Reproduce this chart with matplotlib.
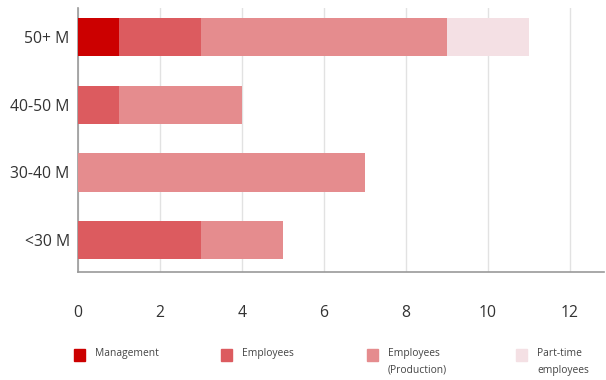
import matplotlib
matplotlib.use("Agg")
import matplotlib.pyplot as plt
from matplotlib.patches import Rectangle

plt.rcParams['font.family'] = ['Open Sans', 'DejaVu Sans']

# Revenue groups, bottom to top
groups = ["<30 M", "30-40 M", "40-50 M", "50+ M"]
series = ["Management", "Employees", "Employees\n(Production)", "Part-time\nemployees"]
colors = ["#cc0000", "#dc5b5f", "#e58c8e", "#f4e0e4"]

management = [0, 0, 0, 1]
employees = [3, 0, 1, 2]
production = [2, 7, 3, 6]
part_time = [0, 0, 0, 2]

values = [management, employees, production, part_time]

fig = plt.figure(figsize=(6.06, 3.80), dpi=100)
ax = fig.add_axes([78 / 606, 1 - 272 / 380, (604 - 78) / 606, (272 - 8) / 380])

ypos = list(range(len(groups)))
left = [0] * len(groups)
for vals, col in zip(values, colors):
    ax.barh(ypos, vals, left=left, height=0.57, color=col, zorder=3)
    left = [a + b for a, b in zip(left, vals)]

ax.set_xlim(0, 12.83)
ax.set_ylim(-0.47, 3.43)
ax.set_xticks(range(0, 13, 2))
ax.set_yticks(ypos)
ax.set_yticklabels(groups)
ax.grid(axis="x", color="#e2e2e2", linewidth=1, zorder=0)
ax.tick_params(axis="both", length=0, labelsize=11.3, labelcolor="#333333")
ax.tick_params(axis="x", pad=24)
ax.tick_params(axis="y", pad=6)
for side in ["top", "right"]:
    ax.spines[side].set_visible(False)
for side in ["left", "bottom"]:
    ax.spines[side].set_color("#999999")
    ax.spines[side].set_linewidth(1.2)

# legend row below the axis
legend_x = [74, 221, 367, 516]
for x, lab, col in zip(legend_x, series, colors):
    fig.patches.append(Rectangle((x / 606, 1 - 361 / 380), 11 / 606, 12 / 380,
                                 transform=fig.transFigure, color=col))
    fig.text((x + 21) / 606, 1 - 348 / 380, lab, fontsize=7.4, color="#444444",
             va="top", ha="left", linespacing=1.7)

fig.savefig("out.png", dpi=100)
